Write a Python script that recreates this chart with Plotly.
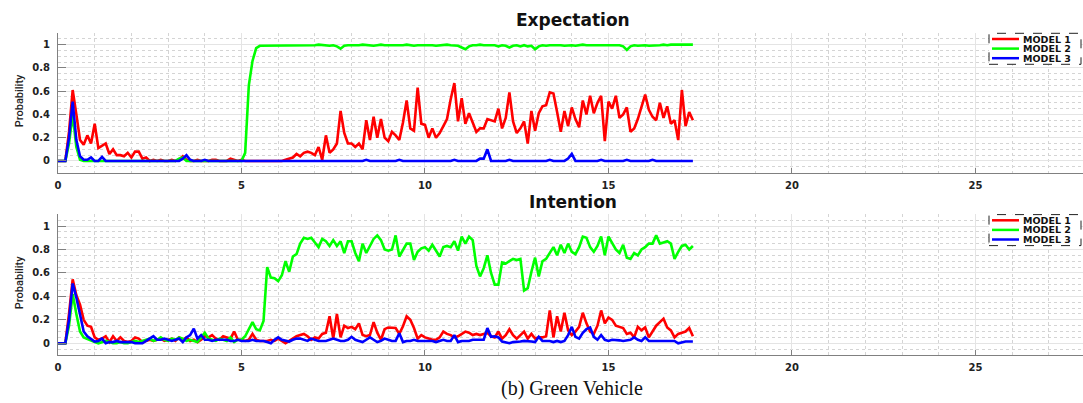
import plotly.graph_objects as go

# ---------------- data (sampled every 0.1 s, t = 0.0 ... 17.3) ----------------
TIME_STEP = 0.1
SERIES_NAMES = ["MODEL 1", "MODEL 2", "MODEL 3"]
SERIES_COLORS = ["#ff0000", "#00ff00", "#0000ff"]
X_TICKS = [0, 5, 10, 15, 20, 25]
Y_TICKS = [0, 0.2, 0.4, 0.6, 0.8, 1]
Y_TICK_LABELS = ["0", "0.2", "0.4", "0.6", "0.8", "1"]
PANEL_TITLES = ["Expectation", "Intention"]
CAPTION = "(b) Green Vehicle"

expectation_m1 = [
    0, 0, 0, 0.25, 0.61, 0.40, 0.18, 0.14, 0.22, 0.15,
    0.32, 0.11, 0.13, 0.15, 0.06, 0.10, 0.05, 0.05, 0.04, 0.07,
    0.03, 0.08, 0.08, 0.02, 0.03, 0.00, 0.01, 0.00, 0.01, 0.00,
    0.00, 0.01, 0.00, 0.01, 0.04, 0.01, 0.00, 0.00, 0.01, 0.00,
    0.00, 0.00, 0.01, 0.01, 0.00, 0.00, 0.00, 0.02, 0.01, 0.00,
    0.01, 0.00, 0.00, 0.00, 0.00, 0.00, 0.00, 0.00, 0.00, 0.00,
    0.00, 0.00, 0.01, 0.02, 0.03, 0.06, 0.04, 0.07, 0.08, 0.07,
    0.05, 0.12, 0.01, 0.22, 0.07, 0.10, 0.15, 0.43, 0.24, 0.15,
    0.15, 0.12, 0.15, 0.10, 0.35, 0.18, 0.38, 0.20, 0.36, 0.20,
    0.17, 0.25, 0.22, 0.18, 0.33, 0.52, 0.28, 0.26, 0.63, 0.32,
    0.31, 0.20, 0.28, 0.20, 0.24, 0.30, 0.36, 0.53, 0.67, 0.34,
    0.54, 0.32, 0.41, 0.33, 0.25, 0.28, 0.28, 0.36, 0.35, 0.34,
    0.45, 0.28, 0.37, 0.59, 0.34, 0.24, 0.28, 0.34, 0.15, 0.43,
    0.26, 0.41, 0.47, 0.48, 0.59, 0.58, 0.42, 0.25, 0.43, 0.30,
    0.46, 0.36, 0.29, 0.52, 0.40, 0.56, 0.41, 0.50, 0.56, 0.17,
    0.51, 0.45, 0.56, 0.37, 0.40, 0.46, 0.25, 0.28, 0.36, 0.47,
    0.57, 0.44, 0.38, 0.35, 0.50, 0.37, 0.47, 0.32, 0.35, 0.18,
    0.61, 0.30, 0.42, 0.35,
]

expectation_m2 = [
    0, 0, 0, 0.15, 0.40, 0.12, 0.01, 0, 0, 0,
    0, 0, 0, 0, 0, 0, 0, 0, 0, 0,
    0, 0, 0, 0, 0, 0, 0, 0, 0, 0,
    0, 0, 0, 0.02, 0.03, 0, 0, 0, 0, 0,
    0, 0, 0, 0, 0, 0, 0, 0, 0, 0,
    0.00, 0.07, 0.65, 0.86, 0.97, 0.99, 0.99, 0.99, 0.995, 0.99,
    0.995, 0.99, 0.995, 0.99, 0.995, 0.99, 0.995, 0.995, 0.99, 0.995,
    0.995, 1.0, 0.995, 0.995, 0.99, 0.995, 0.985, 0.965, 0.99, 0.995,
    0.995, 0.99, 0.995, 1.0, 0.995, 0.995, 0.99, 0.995, 1.0, 0.995,
    0.995, 0.99, 0.995, 0.995, 0.995, 1.0, 0.995, 0.99, 0.995, 0.995,
    1.0, 0.995, 0.995, 0.99, 0.995, 0.995, 1.0, 0.995, 0.995, 0.99,
    0.975, 0.96, 0.985, 0.995, 0.995, 1.0, 0.995, 0.995, 0.99, 0.995,
    0.985, 0.995, 0.99, 0.975, 0.99, 0.995, 0.985, 0.995, 0.985, 0.99,
    0.96, 0.985, 0.995, 0.99, 0.995, 0.995, 1.0, 0.995, 0.99, 0.995,
    0.995, 0.99, 0.995, 1.0, 0.995, 0.995, 0.99, 0.995, 0.99, 0.995,
    0.995, 0.99, 0.995, 0.995, 0.985, 0.955, 0.985, 0.995, 0.99, 0.995,
    0.995, 0.99, 0.99, 0.995, 0.995, 1.0, 0.995, 1.0, 1.0, 1.0,
    1.0, 1.0, 1.0, 1.0,
]

expectation_m3 = [
    0, 0, 0, 0.20, 0.51, 0.18, 0.04, 0.01, 0.01, 0.03,
    0, 0, 0.035, 0, 0, 0, 0, 0, 0, 0,
    0, 0, 0, 0, 0, 0, 0, 0, 0, 0,
    0, 0, 0, 0, 0.02, 0.05, 0.01, 0, 0, 0,
    0.01, 0, 0, 0, 0, 0, 0, 0, 0, 0,
    0, 0, 0, 0, 0, 0, 0, 0, 0, 0,
    0, 0, 0, 0, 0, 0, 0, 0, 0, 0,
    0, 0, 0, 0, 0, 0, 0, 0, 0, 0,
    0, 0, 0, 0, 0.01, 0, 0, 0, 0, 0,
    0, 0, 0, 0.01, 0, 0, 0, 0, 0, 0,
    0, 0, 0, 0, 0, 0, 0, 0, 0.01, 0,
    0, 0, 0, 0, 0, 0.02, 0.02, 0.10, 0.0, 0,
    0, 0, 0, 0.01, 0, 0, 0, 0, 0, 0,
    0, 0, 0, 0, 0.01, 0, 0, 0, 0, 0.02,
    0.06, 0.0, 0, 0, 0, 0, 0, 0, 0.01, 0,
    0, 0, 0, 0, 0, 0.01, 0, 0, 0, 0,
    0, 0, 0.01, 0, 0, 0, 0, 0, 0, 0,
    0, 0, 0, 0,
]

intention_m1 = [
    0, 0, 0, 0.25, 0.545, 0.41, 0.33, 0.20, 0.15, 0.14,
    0.05, 0.03, 0.04, 0.06, 0.01, 0.06, 0.02, 0.05, 0.02, 0.01,
    0.02, 0.05, 0.04, 0.01, 0.02, 0.03, 0.02, 0.03, 0.04, 0.02,
    0.03, 0.04, 0.02, 0.05, 0.03, 0.05, 0.02, 0.03, 0.01, 0.03,
    0.06, 0.05, 0.07, 0.04, 0.03, 0.06, 0.05, 0.04, 0.10, 0.03,
    0.03, 0.02, 0.03, 0.08, 0.03, 0.02, 0.02, 0.02, 0.03, 0.02,
    0.04, 0.02, 0.00, 0.02, 0.04, 0.06, 0.07, 0.08, 0.06, 0.03,
    0.05, 0.04, 0.08, 0.09, 0.23, 0.04, 0.25, 0.05, 0.15, 0.13,
    0.14, 0.12, 0.17, 0.07, 0.06, 0.07, 0.18, 0.09, 0.03, 0.12,
    0.135, 0.13, 0.13, 0.08, 0.145, 0.23, 0.20, 0.13, 0.04, 0.07,
    0.05, 0.04, 0.03, 0.03, 0.05, 0.10, 0.08, 0.07, 0.05, 0.06,
    0.08, 0.10, 0.09, 0.07, 0.08, 0.07, 0.08, 0.09, 0.06, 0.05,
    0.10, 0.04, 0.07, 0.12, 0.07, 0.04, 0.07, 0.10, 0.04, 0.08,
    0.04, 0.05, 0.05, 0.06, 0.28, 0.05, 0.23, 0.10, 0.26, 0.11,
    0.07, 0.10, 0.14, 0.26, 0.17, 0.10, 0.08, 0.15, 0.28, 0.17,
    0.22, 0.20, 0.15, 0.14, 0.13, 0.08, 0.09, 0.05, 0.14, 0.11,
    0.135, 0.05, 0.10, 0.15, 0.18, 0.21, 0.135, 0.11, 0.05, 0.08,
    0.09, 0.10, 0.13, 0.06,
]

intention_m2 = [
    0, 0, 0, 0.15, 0.42, 0.25, 0.10, 0.05, 0.035, 0.02,
    0.01, 0.0, 0.01, 0.02, 0.01, 0.0, 0.0, 0.01, 0.0, 0.0,
    0.01, 0.02, 0.01, 0.02, 0.03, 0.04, 0.02, 0.03, 0.05, 0.03,
    0.02, 0.04, 0.03, 0.05, 0.04, 0.02, 0.03, 0.02, 0.01, 0.05,
    0.09, 0.04, 0.03, 0.02, 0.04, 0.03, 0.02, 0.05, 0.01, 0.03,
    0.03, 0.06, 0.12, 0.18, 0.12, 0.11, 0.19, 0.65, 0.56, 0.555,
    0.53, 0.58, 0.70, 0.61, 0.74, 0.76, 0.85, 0.90, 0.89, 0.90,
    0.86, 0.82, 0.89, 0.87, 0.83, 0.88, 0.83, 0.87, 0.77, 0.87,
    0.87, 0.77, 0.70, 0.85, 0.77, 0.83, 0.89, 0.92, 0.88, 0.80,
    0.79, 0.80, 0.92, 0.74, 0.80, 0.85, 0.85, 0.71, 0.78, 0.81,
    0.82, 0.79, 0.84, 0.79, 0.74, 0.82, 0.83, 0.82, 0.87, 0.79,
    0.91, 0.85, 0.91, 0.88, 0.66, 0.57, 0.64, 0.75, 0.60, 0.50,
    0.50, 0.69, 0.68, 0.70, 0.72, 0.71, 0.72, 0.45, 0.47, 0.61,
    0.73, 0.57, 0.70, 0.72, 0.77, 0.82, 0.75, 0.84, 0.77, 0.85,
    0.78, 0.76, 0.82, 0.91, 0.90, 0.82, 0.78, 0.83, 0.91, 0.75,
    0.91, 0.85, 0.80, 0.77, 0.84, 0.73, 0.72, 0.77, 0.75, 0.80,
    0.82, 0.85, 0.85, 0.92, 0.85, 0.86, 0.87, 0.85, 0.72, 0.78,
    0.83, 0.84, 0.80, 0.83,
]

intention_m3 = [
    0, 0, 0, 0.20, 0.51, 0.39, 0.25, 0.10, 0.06, 0.04,
    0.015, 0.02, 0.04, 0.00, 0.01, 0.01, 0.02, 0.01, 0.01, 0.01,
    0.01, 0.0, 0.0, 0.0, 0.02, 0.04, 0.06, 0.03, 0.03, 0.04,
    0.03, 0.02, 0.03, 0.04, 0.01, 0.05, 0.07, 0.125, 0.04, 0.07,
    0.03, 0.03, 0.02, 0.03, 0.03, 0.03, 0.03, 0.02, 0.02, 0.03,
    0.02, 0.02, 0.02, 0.03, 0.02, 0.02, 0.02, 0.01, 0.00, 0.03,
    0.05, 0.03, 0.02, 0.015, 0.03, 0.04, 0.04, 0.03, 0.02, 0.04,
    0.03, 0.02, 0.02, 0.02, 0.03, 0.04, 0.03, 0.02, 0.02, 0.03,
    0.055, 0.03, 0.02, 0.01, 0.03, 0.05, 0.03, 0.01, 0.02, 0.04,
    0.03, 0.02, 0.02, 0.085, 0.01, 0.02, 0.02, 0.03, 0.02, 0.02,
    0.02, 0.02, 0.02, 0.01, 0.02, 0.03, 0.02, 0.02, 0.07, 0.01,
    0.02, 0.02, 0.02, 0.03, 0.03, 0.03, 0.03, 0.13, 0.055, 0.06,
    0.05, 0.015, 0.01, 0.00, 0.01, 0.01, 0.015, 0.02, 0.02, 0.015,
    0.01, 0.055, 0.02, 0.02, 0.02, 0.01, 0.02, 0.01, 0.02, 0.07,
    0.14, 0.055, 0.04, 0.09, 0.12, 0.135, 0.055, 0.03, 0.07, 0.03,
    0.02, 0.03, 0.03, 0.025, 0.02, 0.025, 0.03, 0.05, 0.03, 0.02,
    0.05, 0.02, 0.02, 0.02, 0.015, 0.02, 0.02, 0.02, 0.02, 0.0,
    0.01, 0.015, 0.015, 0.015,
]

panels = [
    [expectation_m1, expectation_m2, expectation_m3],
    [intention_m1, intention_m2, intention_m3],
]

# ---------------- layout helpers (pixel -> paper) ----------------
W, H = 1083, 403
def px(x):
    return x / W
def py(y):
    return 1 - y / H

X_LEFT = 58
X_RANGE = [0, 27.93]
Y_RANGE = [-0.1, 1.1]
panel_pix = [(33.0, 172.6), (214.3, 355.0)]   # top, bottom of each plot area

fig = go.Figure()

for p, series in enumerate(panels):
    xa = "x" if p == 0 else "x2"
    ya = "y" if p == 0 else "y2"
    for name, color, vals in zip(SERIES_NAMES, SERIES_COLORS, series):
        t = [round(i * TIME_STEP, 1) for i in range(len(vals))]
        fig.add_trace(go.Scatter(
            x=t, y=vals, mode="lines", name=name,
            line=dict(color=color, width=2.6),
            xaxis=xa, yaxis=ya, showlegend=False,
        ))

tick_font = dict(family="DejaVu Sans", size=10, color="#222222", weight="bold")
axis_common = dict(
    showline=True, linecolor="#808080", linewidth=1,
    ticks="inside", tickcolor="#808080",
    showgrid=True, gridcolor="#e4e4e4", gridwidth=1,
    zeroline=False, tickfont=tick_font, fixedrange=True,
    automargin=False,
)

layout = dict(
    width=W, height=H,
    margin=dict(l=0, r=0, t=0, b=0, pad=0, autoexpand=False),
    paper_bgcolor="white", plot_bgcolor="white",
    showlegend=False,
)
for p, (top, bot) in enumerate(panel_pix):
    sfx = "" if p == 0 else "2"
    layout["xaxis" + sfx] = dict(
        axis_common, domain=[px(X_LEFT), 1], range=X_RANGE,
        tickvals=X_TICKS, ticklen=5,
        minor=dict(dtick=1, tick0=0, showgrid=True, gridcolor="#d4d4d4",
                   griddash="dot", ticks=""),
        anchor="y" + sfx, ticklabelstandoff=3,
    )
    layout["yaxis" + sfx] = dict(
        axis_common, domain=[py(bot), py(top)], range=Y_RANGE,
        tickvals=Y_TICKS, ticktext=Y_TICK_LABELS, ticklen=8,
        minor=dict(dtick=0.05, tick0=0, showgrid=True, gridcolor="#d4d4d4",
                   griddash="dot", ticks=""),
        anchor="x" + sfx, ticklabelstandoff=5,
    )
fig.update_layout(**layout)

annotations = []
shapes = []
title_y = [20.5, 201.5]
for p, (top, bot) in enumerate(panel_pix):
    annotations.append(dict(
        text=PANEL_TITLES[p], x=px(572.5), y=py(title_y[p]),
        xref="paper", yref="paper", xanchor="center", yanchor="middle",
        showarrow=False,
        font=dict(family="DejaVu Sans", size=17, color="#111111", weight="bold"),
    ))
    # y-axis title
    annotations.append(dict(
        text="Probability", x=px(19.5), y=py((top + bot) / 2 - 2),
        xref="paper", yref="paper", xanchor="center", yanchor="middle",
        textangle=-90, showarrow=False,
        font=dict(family="Roboto", size=11, color="#222222", weight=500),
    ))
    # legend box
    bx0, bx1 = 989, 1081
    by0 = top + 0.3
    by1 = by0 + 31
    shapes.append(dict(
        type="rect", xref="paper", yref="paper",
        x0=px(bx0), x1=px(bx1), y0=py(by1), y1=py(by0),
        line=dict(color="#222222", width=1, dash="dash"),
        fillcolor="white", layer="above",
    ))
    for i, (name, color) in enumerate(zip(SERIES_NAMES, SERIES_COLORS)):
        ry = by0 + 5.7 + i * 9.6
        shapes.append(dict(
            type="line", xref="paper", yref="paper",
            x0=px(992), x1=px(1019), y0=py(ry), y1=py(ry),
            line=dict(color=color, width=2.5), layer="above",
        ))
        annotations.append(dict(
            text=name, x=px(1022), y=py(ry), xref="paper", yref="paper",
            xanchor="left", yanchor="middle", showarrow=False, borderpad=0,
            font=dict(family="DejaVu Sans", size=9.5, color="#111111", weight="bold"),
        ))

annotations.append(dict(
    text=CAPTION, x=px(572), y=py(388), xref="paper", yref="paper",
    xanchor="center", yanchor="middle", showarrow=False,
    font=dict(family="Liberation Serif", size=20, color="#111111"),
))
fig.update_layout(annotations=annotations, shapes=shapes)

# remove the browser's default 8px page margin so the figure sits at (0, 0)
fig.write_html(
    "out.html",
    config={"displayModeBar": False},
    post_script="document.body.style.margin='0px';",
)
